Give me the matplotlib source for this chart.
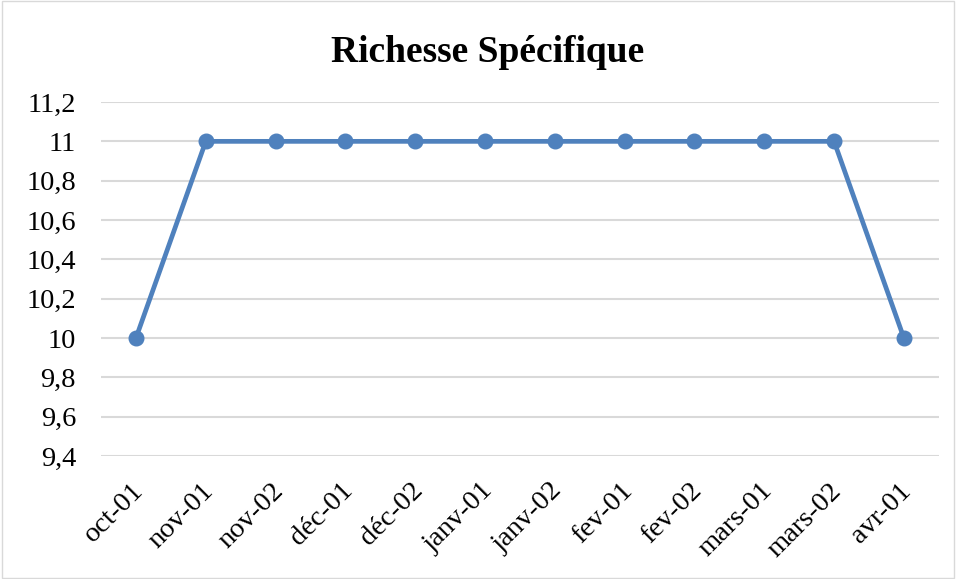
import matplotlib
matplotlib.use("Agg")
import matplotlib.pyplot as plt
import matplotlib.transforms as mtransforms
from matplotlib.patches import Rectangle
from matplotlib.ticker import FuncFormatter

categories = ["oct-01", "nov-01", "nov-02", "déc-01", "déc-02", "janv-01", "janv-02",
              "fev-01", "fev-02", "mars-01", "mars-02", "avr-01"]
values = [10, 11, 11, 11, 11, 11, 11, 11, 11, 11, 11, 10]
yticks = [9.4, 9.6, 9.8, 10.0, 10.2, 10.4, 10.6, 10.8, 11.0, 11.2]
title = "Richesse Spécifique"

plt.rcParams['font.family'] = ['Liberation Serif', 'DejaVu Serif']

fig = plt.figure(figsize=(9.56, 5.79), dpi=100)
ax = fig.add_axes([0.1057, 0.2124, 0.982 - 0.1057, 0.8238 - 0.2124])

x = list(range(len(categories)))
ax.plot(x, values, color='#4F81BD', linewidth=3.4, marker='o', markersize=10.5, zorder=3)

ax.set_xlim(-0.5, len(categories) - 0.5)
ax.set_ylim(9.4, 11.2)
ax.set_yticks(yticks)

def fmt(v, pos):
    s = ('%.1f' % v)
    if s.endswith('.0'):
        s = s[:-2]
    return s.replace('.', ',')

ax.yaxis.set_major_formatter(FuncFormatter(fmt))
ax.set_xticks(x)
ax.set_xticklabels(categories, rotation=45, ha='right', rotation_mode='anchor')
ax.tick_params(axis='both', length=0, labelsize=20.5)
ax.tick_params(axis='y', pad=18)
ax.tick_params(axis='x', pad=16)
offset = mtransforms.ScaledTranslation(-5 / 100, 0, fig.dpi_scale_trans)
for lbl in ax.get_xticklabels():
    lbl.set_transform(lbl.get_transform() + offset)
ax.grid(axis='y', color='#D9D9D9', linewidth=1.5)
ax.set_axisbelow(True)
for s in ax.spines.values():
    s.set_visible(False)

fig.text(0.51, 0.91, title, ha='center', va='center', fontsize=27, fontweight='bold')

fig.patches.append(Rectangle((0.002, 0.002), 0.996, 0.996, transform=fig.transFigure,
                             fill=False, edgecolor='#D9D9D9', linewidth=1))

fig.savefig("out.png", dpi=100)
